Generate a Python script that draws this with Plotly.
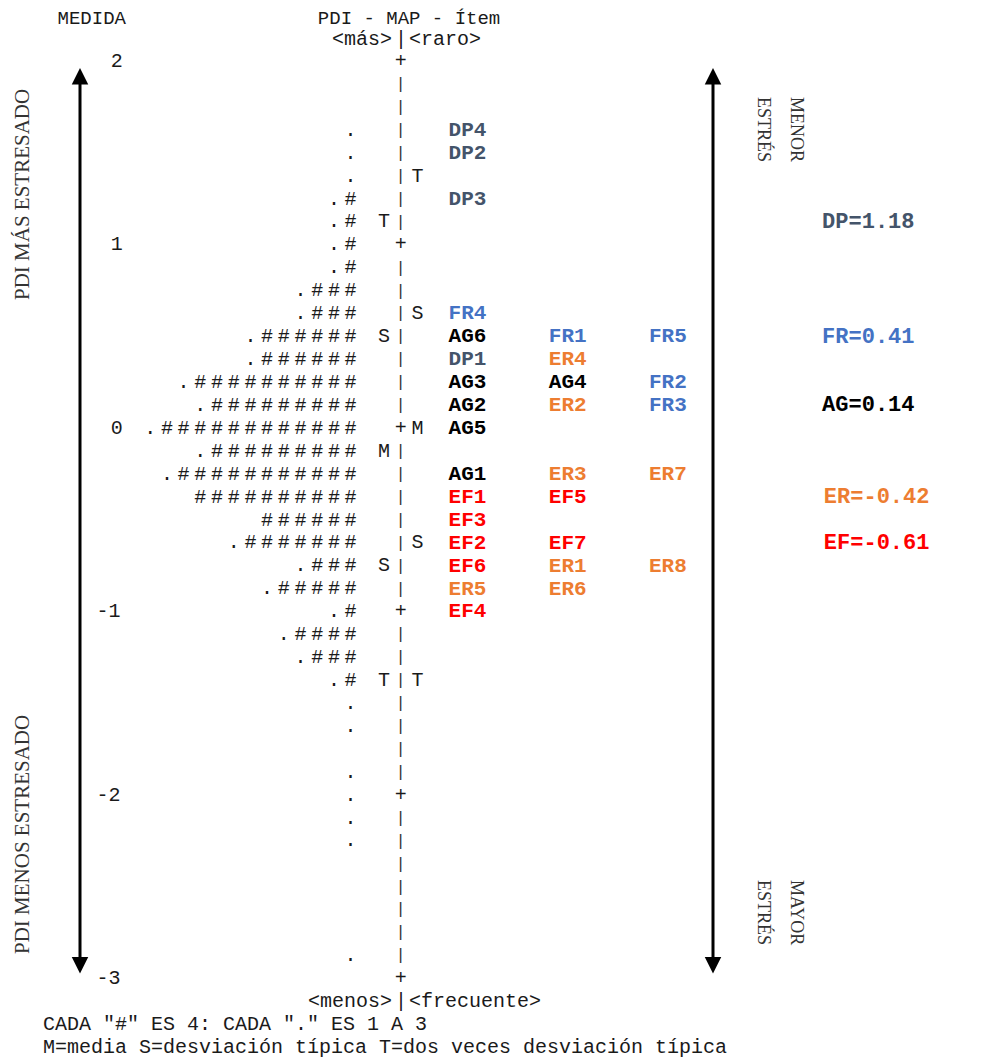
import numpy as np
import plotly.graph_objects as go

MEASURE_TICKS = [2, 1, 0, -1, -2, -3]

PERSON_MEASURE = [1.625, 1.5, 1.375, 1.25, 1.125, 1.0, 0.875, 0.75, 0.625, 0.5,
                  0.375, 0.25, 0.125, 0.0, -0.125, -0.25, -0.375, -0.5, -0.625, -0.75,
                  -0.875, -1.0, -1.125, -1.25, -1.375, -1.5, -1.625, -1.875, -2.0, -2.125,
                  -2.25, -2.875]
PERSON_HASHES = [0, 0, 0, 1, 1, 1, 1, 3, 3, 6,
                 6, 10, 9, 12, 9, 11, 10, 6, 7, 3,
                 5, 1, 4, 3, 1, 0, 0, 0, 0, 0,
                 0, 0]
PERSON_DOT = [1, 1, 1, 1, 1, 1, 1, 1, 1, 1,
              1, 1, 1, 1, 1, 1, 0, 0, 1, 1,
              1, 1, 1, 1, 1, 1, 1, 1, 1, 1,
              1, 1]

PERSON_MARK_LABEL = ["T", "S", "M", "S", "T"]
PERSON_MARK_MEASURE = [1.125, 0.5, -0.125, -0.75, -1.375]
ITEM_MARK_LABEL = ["T", "S", "M", "S", "T"]
ITEM_MARK_MEASURE = [1.375, 0.625, 0.0, -0.625, -1.375]

ITEM_LABELS = ["DP4", "DP2", "DP3", "FR4", "AG6", "FR1", "FR5", "DP1", "ER4", "AG3",
               "AG4", "FR2", "AG2", "ER2", "FR3", "AG5", "AG1", "ER3", "ER7", "EF1",
               "EF5", "EF3", "EF2", "EF7", "EF6", "ER1", "ER8", "ER5", "ER6", "EF4"]
ITEM_MEASURES = [1.625, 1.5, 1.25, 0.625, 0.5, 0.5, 0.5, 0.375, 0.375, 0.25,
                 0.25, 0.25, 0.125, 0.125, 0.125, 0.0, -0.25, -0.25, -0.25, -0.375,
                 -0.375, -0.5, -0.625, -0.625, -0.75, -0.75, -0.75, -0.875, -0.875, -1.0]

DOMAINS = ["DP", "FR", "AG", "ER", "EF"]
DOMAIN_MEANS = [1.18, 0.41, 0.14, -0.42, -0.61]
DOMAIN_COLORS = ["#44546A", "#4472C4", "#000000", "#ED7D31", "#FF0000"]

FOOTER_LINES = ['CADA "#" ES 4: CADA "." ES 1 A 3',
                "M=media S=desviación típica T=dos veces desviación típica"]

# ---------------- layout constants ----------------
PAGE_W, PAGE_H = 997, 1058
BODY = 8                              # default body margin of the html page
W, H = PAGE_W - BODY, PAGE_H - BODY   # figure reaches the window's right/bottom edge
COL_PX, COL_W = 50, 16.7              # page pixel centre of column 0, column width
Y_TOP_PX, Y_BOT_PX = 62, 979          # page pixel rows of measure 2 and -3
ROW = 0.125

TICK_COL = 4
HASH_END_COL = 18
PERSON_MARK_COL = 20
BAR_COL = 21
ITEM_MARK_COL = 22
ITEM_SLOT_COLS = [24, 30, 36]
DOMAIN_COL = 46
DOMAIN_LABEL_ROW = [1.125, 0.5, 0.125, -0.375, -0.625]

ppu = (Y_BOT_PX - Y_TOP_PX) / 5.0
x0 = -(COL_PX - BODY) / COL_W
x_range = [x0, x0 + W / COL_W]
y1 = 2 + (Y_TOP_PX - BODY) / ppu
y_range = [y1 - H / ppu, y1]

MONO = "Liberation Mono"
TXT = "#1a1a1a"
F_MAP = dict(family=MONO, size=20, color=TXT)
F_HEAD = dict(family=MONO, size=20, color=TXT)
F_FOOT = dict(family=MONO, size=20, color=TXT)


def centre(text, start_col):
    return start_col + (len(text) - 1) / 2.0


fig = go.Figure()

# person distribution: one glyph per column
hx, hy, ht = [], [], []
for m, n, d in zip(PERSON_MEASURE, PERSON_HASHES, PERSON_DOT):
    for k in range(n):
        hx.append(HASH_END_COL - k)
        hy.append(m)
        ht.append("#")
    if d:
        hx.append(HASH_END_COL - n)
        hy.append(m)
        ht.append(".")
fig.add_trace(go.Scatter(x=hx, y=hy, text=ht, mode="text", textfont=F_MAP,
                         hoverinfo="skip", showlegend=False))

# measure tick labels (right aligned at TICK_COL)
fig.add_trace(go.Scatter(
    x=[TICK_COL - (len(str(t)) - 1) / 2.0 for t in MEASURE_TICKS],
    y=MEASURE_TICKS, text=[str(t) for t in MEASURE_TICKS],
    mode="text", textfont=F_MAP, hoverinfo="skip", showlegend=False))

# central ruler: '+' at whole logits, short '|' between
grid = np.arange(2 * 8, -3 * 8 - 1, -1) / 8.0
plus = [g for g in grid if float(g).is_integer()]
bars = [g for g in grid if not float(g).is_integer()]
fig.add_trace(go.Scatter(x=[BAR_COL] * len(plus), y=plus, text=["+"] * len(plus),
                         mode="text", textfont=F_MAP, hoverinfo="skip", showlegend=False))
fig.add_trace(go.Scatter(x=[BAR_COL] * len(bars), y=bars, text=["|"] * len(bars),
                         mode="text", textfont=dict(family=MONO, size=17, color="#333333"),
                         hoverinfo="skip", showlegend=False))

# M / S / T markers
fig.add_trace(go.Scatter(
    x=[PERSON_MARK_COL] * len(PERSON_MARK_LABEL) + [ITEM_MARK_COL] * len(ITEM_MARK_LABEL),
    y=PERSON_MARK_MEASURE + ITEM_MARK_MEASURE,
    text=PERSON_MARK_LABEL + ITEM_MARK_LABEL,
    mode="text", textfont=F_MAP, hoverinfo="skip", showlegend=False))

# items, coloured by domain, slotted left to right within a row
slot_count = {}
ix, iy, it, ic = [], [], [], []
for lab, m in zip(ITEM_LABELS, ITEM_MEASURES):
    s = slot_count.get(m, 0)
    slot_count[m] = s + 1
    ix.append(centre(lab, ITEM_SLOT_COLS[s]))
    iy.append(m)
    it.append(lab)
    ic.append(DOMAIN_COLORS[DOMAINS.index(lab[:2])])
fig.add_trace(go.Scatter(x=ix, y=iy, text=it, mode="text",
                         textfont=dict(family=MONO, size=21, color=ic),
                         texttemplate="<b>%{text}</b>",
                         hoverinfo="skip", showlegend=False))

# domain means
dl = [f"{d}={m:.2f}" for d, m in zip(DOMAINS, DOMAIN_MEANS)]
fig.add_trace(go.Scatter(x=[centre(t, DOMAIN_COL) for t in dl], y=DOMAIN_LABEL_ROW,
                         text=dl, mode="text",
                         textfont=dict(family=MONO, size=22, color=DOMAIN_COLORS),
                         texttemplate="<b>%{text}</b>",
                         hoverinfo="skip", showlegend=False))

# header line
top_y = 2 + 2 * ROW - 3 / ppu
head_txt = ["MEDIDA", "PDI - MAP - Ítem"]
head_col = [0, 14]
fig.add_trace(go.Scatter(x=[centre(t, c) for t, c in zip(head_txt, head_col)],
                         y=[top_y] * 2, text=head_txt, mode="text",
                         textfont=dict(family=MONO, size=19, color=TXT),
                         hoverinfo="skip", showlegend=False))

ann = []
# '<más>|<raro>' and '<menos>|<frecuente>' split around the ruler column
for left, right, y in [("<más>", "<raro>", 2 + ROW), ("<menos>", "<frecuente>", -3 - ROW)]:
    ann.append(dict(x=BAR_COL - 0.45, y=y, xref="x", yref="y", text=left, showarrow=False,
                    xanchor="right", yanchor="middle", font=F_HEAD, borderpad=0))
    ann.append(dict(x=BAR_COL, y=y, xref="x", yref="y", text="|", showarrow=False,
                    xanchor="center", yanchor="middle", font=F_HEAD, borderpad=0))
    ann.append(dict(x=BAR_COL + 0.45, y=y, xref="x", yref="y", text=right, showarrow=False,
                    xanchor="left", yanchor="middle", font=F_HEAD, borderpad=0))

# footer lines, left aligned on column 0
for k, line in enumerate(FOOTER_LINES):
    ann.append(dict(x=-0.5, y=-3 - (2 + k) * ROW, xref="x", yref="y", text=line,
                    showarrow=False, xanchor="left", yanchor="middle", font=F_FOOT,
                    borderpad=0))

# arrows
ARROW_COLS = [(80 - COL_PX) / COL_W, (713 - COL_PX) / COL_W]
arrow_top = 2 - 6 / ppu
arrow_bot = -3 + 4 / ppu
for c in ARROW_COLS:
    ann.append(dict(x=c, y=arrow_top, ax=c, ay=arrow_bot, xref="x", yref="y",
                    axref="x", ayref="y", text="", showarrow=True,
                    arrowhead=2, startarrowhead=2, arrowside="end+start",
                    arrowsize=1.1, startarrowsize=1.1, arrowwidth=3,
                    arrowcolor="#000000", standoff=0, startstandoff=0))


def pann(text, px, py, angle, size):
    return dict(x=(px - BODY) / W, y=1 - (py - BODY) / H, xref="paper", yref="paper",
                text=text, showarrow=False, textangle=angle, xanchor="center",
                yanchor="middle",
                font=dict(family="Liberation Serif", size=size, color="#333333"))


ann += [
    pann("PDI MÁS ESTRESADO", 22, 195, -90, 21),
    pann("PDI MENOS ESTRESADO", 22, 835, -90, 21),
    pann("MENOR", 797, 129, 90, 18),
    pann("ESTRÉS", 765, 129, 90, 18),
    pann("MAYOR", 797, 912, 90, 18),
    pann("ESTRÉS", 765, 912, 90, 18),
]

fig.update_layout(
    width=W, height=H, margin=dict(l=0, r=0, t=0, b=0),
    paper_bgcolor="white", plot_bgcolor="white",
    xaxis=dict(range=x_range, visible=False, fixedrange=True),
    yaxis=dict(range=y_range, visible=False, fixedrange=True),
    annotations=ann, showlegend=False,
)

fig.write_html("out.html")
